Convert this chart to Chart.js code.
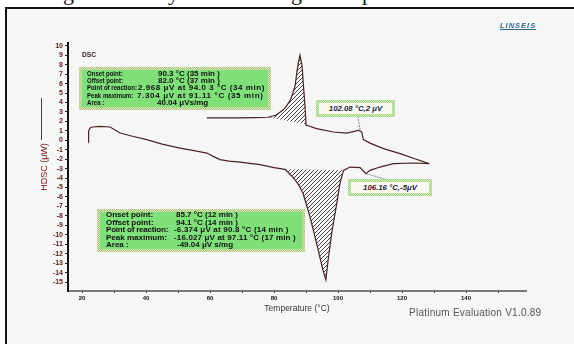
<!DOCTYPE html>
<html><head><meta charset="utf-8">
<script src="https://cdn.jsdelivr.net/npm/chart.js@4.4.1/dist/chart.umd.min.js"></script>
<style>
html,body{margin:0;padding:0;width:574px;height:344px;overflow:hidden;background:#fff;font-family:"Liberation Sans",Arial,sans-serif;}
#frame{position:absolute;left:5px;top:7px;width:569px;height:337px;background:#f6f6f6;border-left:2px solid #111;border-top:2px solid #111;box-sizing:border-box;}
#cv{position:absolute;left:0;top:0;}
.abs{position:absolute;white-space:nowrap;}
.cap{position:absolute;font-family:"Liberation Serif",serif;font-size:22px;color:#111;top:-18px;line-height:22px;}
.gbox{position:absolute;box-sizing:border-box;padding:3px;background:repeating-conic-gradient(#a3c46f 0 25%,#dfe9c9 0 50%) 0 0/2px 2px;}
.gin{width:100%;height:100%;background:#7fe07a;}
.t{position:absolute;font-weight:bold;font-size:8px;color:#111;line-height:8px;white-space:nowrap;transform:translateY(-50%);}
.lab1{transform:translateY(-50%) scaleX(0.76);transform-origin:0 50%;}
.sbox{position:absolute;box-sizing:border-box;padding:3px;background:repeating-conic-gradient(#9fd07a 0 25%,#d8ecc4 0 50%) 0 0/2px 2px;}
.sin{width:100%;height:100%;background:#f9f9f2;font-style:italic;font-weight:bold;font-size:7.8px;color:#1c1c3c;display:flex;align-items:center;justify-content:center;white-space:nowrap;}
</style></head>
<body>
<div class="cap" style="left:63px">g</div>
<div class="cap" style="left:168px">y</div>
<div class="cap" style="left:291px">g</div>
<div class="cap" style="left:362px">p</div>
<div id="frame"></div>
<div class="abs" style="left:41px;top:98px;width:1px;height:42px;background:#444"></div>
<canvas id="cv" width="574" height="344"></canvas>

<div class="abs" style="left:500px;top:21px;font-size:7.5px;font-style:italic;font-weight:bold;color:#2f6d8c;letter-spacing:1px;text-decoration:underline;">LINSEIS</div>
<div class="abs" style="left:82px;top:51px;font-size:6.6px;font-weight:bold;color:#3a1a1a;">DSC</div>
<div class="abs" style="left:409px;top:307px;font-size:10px;color:#555;letter-spacing:0.25px;">Platinum Evaluation V1.0.89</div>

<div class="gbox" style="left:79px;top:67px;width:192px;height:43px;"><div class="gin"></div></div>
<div class="t lab1" style="left:87px;top:74px">Onset point:</div><div class="t" style="left:158px;top:74px">90.3 °C (35 min )</div>
<div class="t lab1" style="left:87px;top:81.2px">Offset point:</div><div class="t" style="left:158px;top:81.2px">82.0 °C (37 min )</div>
<div class="t lab1" style="left:87px;top:88.4px">Point of reaction:</div><div class="t" style="left:138px;top:88.4px;letter-spacing:0.55px">2.968 μV at 94.0 3 °C (34 min)</div>
<div class="t lab1" style="left:87px;top:95.6px">Peak maximum:</div><div class="t" style="left:137px;top:95.6px;letter-spacing:0.65px">7.304 μV at 91.11 °C (35 min)</div>
<div class="t lab1" style="left:87px;top:102.8px">Area :</div><div class="t" style="left:157px;top:102.8px">40.04 μVs/mg</div>

<div class="gbox" style="left:97px;top:209px;width:208px;height:43px;"><div class="gin"></div></div>
<div class="t" style="left:106px;top:215px">Onset point:</div><div class="t" style="left:176px;top:215px">85.7 °C (12 min )</div>
<div class="t" style="left:106px;top:222.5px">Offset point:</div><div class="t" style="left:176px;top:222.5px">94.1 °C (14 min )</div>
<div class="t" style="left:106px;top:230px;letter-spacing:-0.2px">Point of reaction:</div><div class="t" style="left:174px;top:230px;letter-spacing:0.2px">-6.374 μV at 90.8 °C (14 min )</div>
<div class="t" style="left:106px;top:237.5px">Peak maximum:</div><div class="t" style="left:174px;top:237.5px;letter-spacing:0.15px">-16.027 μV at 97.11 °C (17 min )</div>
<div class="t" style="left:106px;top:245px">Area :</div><div class="t" style="left:177px;top:245px">-49.04 μV s/mg</div>

<div class="sbox" style="left:316px;top:100px;width:79px;height:17px;"><div class="sin" id="la"></div></div>
<div class="sbox" style="left:348px;top:179px;width:84px;height:17px;"><div class="sin" id="lb"></div></div>

<script>
// Heating curve (temperature °C, HDSC µW)
const heatT = [22.0, 22.05, 22.5, 23.2, 25.6, 28.75, 31.9, 36.0, 40.2, 45.0, 50.6, 55.0, 59.0, 61.0, 63.1, 66.0, 69.4, 75.6, 80.0, 83.4, 85.9, 87.5, 89.06, 91.25, 93.3, 95.3, 96.2, 96.9, 98.0, 99.6, 100.6, 101.7, 103.75, 106.9, 108.7, 110.0, 113.1, 117.3, 123.5, 128.5];
const heatV = [-0.24, 0.99, 1.3, 1.41, 1.48, 1.41, 0.77, 0.4, 0.07, -0.4, -0.82, -1.1, -1.35, -1.7, -2.04, -2.2, -2.3, -2.57, -2.9, -3.07, -3.89, -4.6, -5.61, -8.12, -10.9, -13.77, -14.76, -12.7, -9.85, -6.67, -4.55, -3.18, -2.83, -2.89, -3.53, -3.18, -2.83, -2.47, -2.40, -2.47];
// Cooling curve
const coolT = [128.5, 124.0, 119.4, 114.2, 110.0, 107.9, 107.4, 106.3, 102.7, 98.5, 93.3, 90.2, 90.0, 89.7, 89.3, 88.75, 88.1, 87.6, 87.2, 86.6, 85.8, 85.0, 83.8, 82.8, 80.6, 78.1, 74.0, 69.4, 64.0, 59.0];
const coolV = [-2.47, -1.95, -1.41, -0.88, -0.3, 0.07, 0.88, 1.06, 0.77, 0.88, 1.24, 1.59, 1.69, 3.5, 5.3, 7.9, 9.0, 8.2, 7.4, 5.8, 4.9, 4.2, 3.6, 3.2, 2.65, 2.44, 2.4, 2.38, 2.38, 2.38];
// Integrated peak ranges (°C)
const endoRange = [83.4, 101.7];
const exoRange = [78.1, 90.0];
// Axis ticks
const xTickLabels = [20, 40, 60, 80, 100, 120, 140];
const yTickRange = [-15, 10];
// Point annotations
const annotT = [106.9, 108.7];
const annotV = [1.1, -3.53];
const annotLabels = ["102.08 °C,2 μV", "106.16 °C,-5μV"];

document.getElementById('la').textContent = annotLabels[0];
document.getElementById('lb').textContent = annotLabels[1];

const heat = heatT.map((t, i) => ({x: t, y: heatV[i]}));
const cool = coolT.map((t, i) => ({x: t, y: coolV[i]}));
const endo = heat.filter(p => p.x >= endoRange[0] && p.x <= endoRange[1]);
const exo = cool.filter(p => p.x >= exoRange[0] && p.x <= exoRange[1]);

function hatch() {
  const c = document.createElement('canvas'); c.width = 4; c.height = 4;
  const g = c.getContext('2d');
  g.fillStyle = '#fbfbfb'; g.fillRect(0, 0, 4, 4);
  g.strokeStyle = '#2a2a2a'; g.lineWidth = 0.9;
  g.beginPath();
  g.moveTo(0, 4); g.lineTo(4, 0);
  g.moveTo(-1, 1); g.lineTo(1, -1);
  g.moveTo(3, 5); g.lineTo(5, 3);
  g.stroke();
  return g.createPattern(c, 'repeat');
}
const pat = hatch();
const leaderEnds = [[358, 117], [388, 180]];

const leaders = {
  id: 'leaders',
  afterDatasetsDraw(chart) {
    const {ctx, scales: {x, y}} = chart;
    ctx.save();
    ctx.strokeStyle = '#666'; ctx.lineWidth = 0.8; ctx.setLineDash([2, 1]);
    annotT.forEach((t, i) => {
      ctx.beginPath();
      ctx.moveTo(x.getPixelForValue(t), y.getPixelForValue(annotV[i]));
      ctx.lineTo(leaderEnds[i][0], leaderEnds[i][1]);
      ctx.stroke();
    });
    ctx.restore();
  }
};

const lineColor = '#4a2222';
new Chart(document.getElementById('cv'), {
  type: 'line',
  data: {
    datasets: [
      {data: heat, borderColor: lineColor, borderWidth: 1.2, fill: false, pointRadius: 0, tension: 0},
      {data: cool, borderColor: lineColor, borderWidth: 1.2, fill: false, pointRadius: 0, tension: 0},
      {data: endo, borderWidth: 0, backgroundColor: pat, fill: 'shape', pointRadius: 0, tension: 0},
      {data: exo, borderWidth: 0, backgroundColor: pat, fill: 'shape', pointRadius: 0, tension: 0}
    ]
  },
  options: {
    responsive: false, animation: false, devicePixelRatio: 1,
    events: [],
    layout: {padding: {left: 39.6, top: 43, right: 48, bottom: 30}},
    plugins: {legend: {display: false}, tooltip: {enabled: false}},
    scales: {
      x: {
        type: 'linear', min: 15.6, max: 158.75,
        afterFit(s) { s.height = 23; },
        border: {color: '#7a7a7a', width: 2},
        grid: {drawOnChartArea: false, drawTicks: true, tickLength: 2, color: '#333'},
        ticks: {
          stepSize: 10, includeBounds: false, autoSkip: false, maxRotation: 0, padding: 2,
          font: {size: 6, weight: 'bold', family: 'Liberation Sans'}, color: '#111',
          callback: v => xTickLabels.includes(Math.round(v)) ? String(Math.round(v)) : ''
        },
        title: {display: true, text: 'Temperature (°C)', font: {size: 8.5, family: 'Liberation Sans'}, color: '#333', padding: 0}
      },
      y: {
        type: 'linear', min: -15.95, max: 10.3,
        afterFit(s) { s.width = 28.4; },
        border: {color: '#111', width: 2},
        grid: {drawOnChartArea: false, drawTicks: true, tickLength: 3, color: '#222'},
        ticks: {
          stepSize: 1, includeBounds: false, autoSkip: false, padding: 2,
          font: {size: 7, weight: 'bold', family: 'Liberation Sans'}, color: '#5a1a1a',
          callback: v => (v >= yTickRange[0] && v <= yTickRange[1]) ? String(Math.round(v)) : ''
        },
        title: {display: true, text: 'HDSC (μW)', font: {size: 9, family: 'Liberation Sans'}, color: '#7a1010', padding: 0}
      }
    }
  },
  plugins: [leaders]
});
</script>
</body></html>
